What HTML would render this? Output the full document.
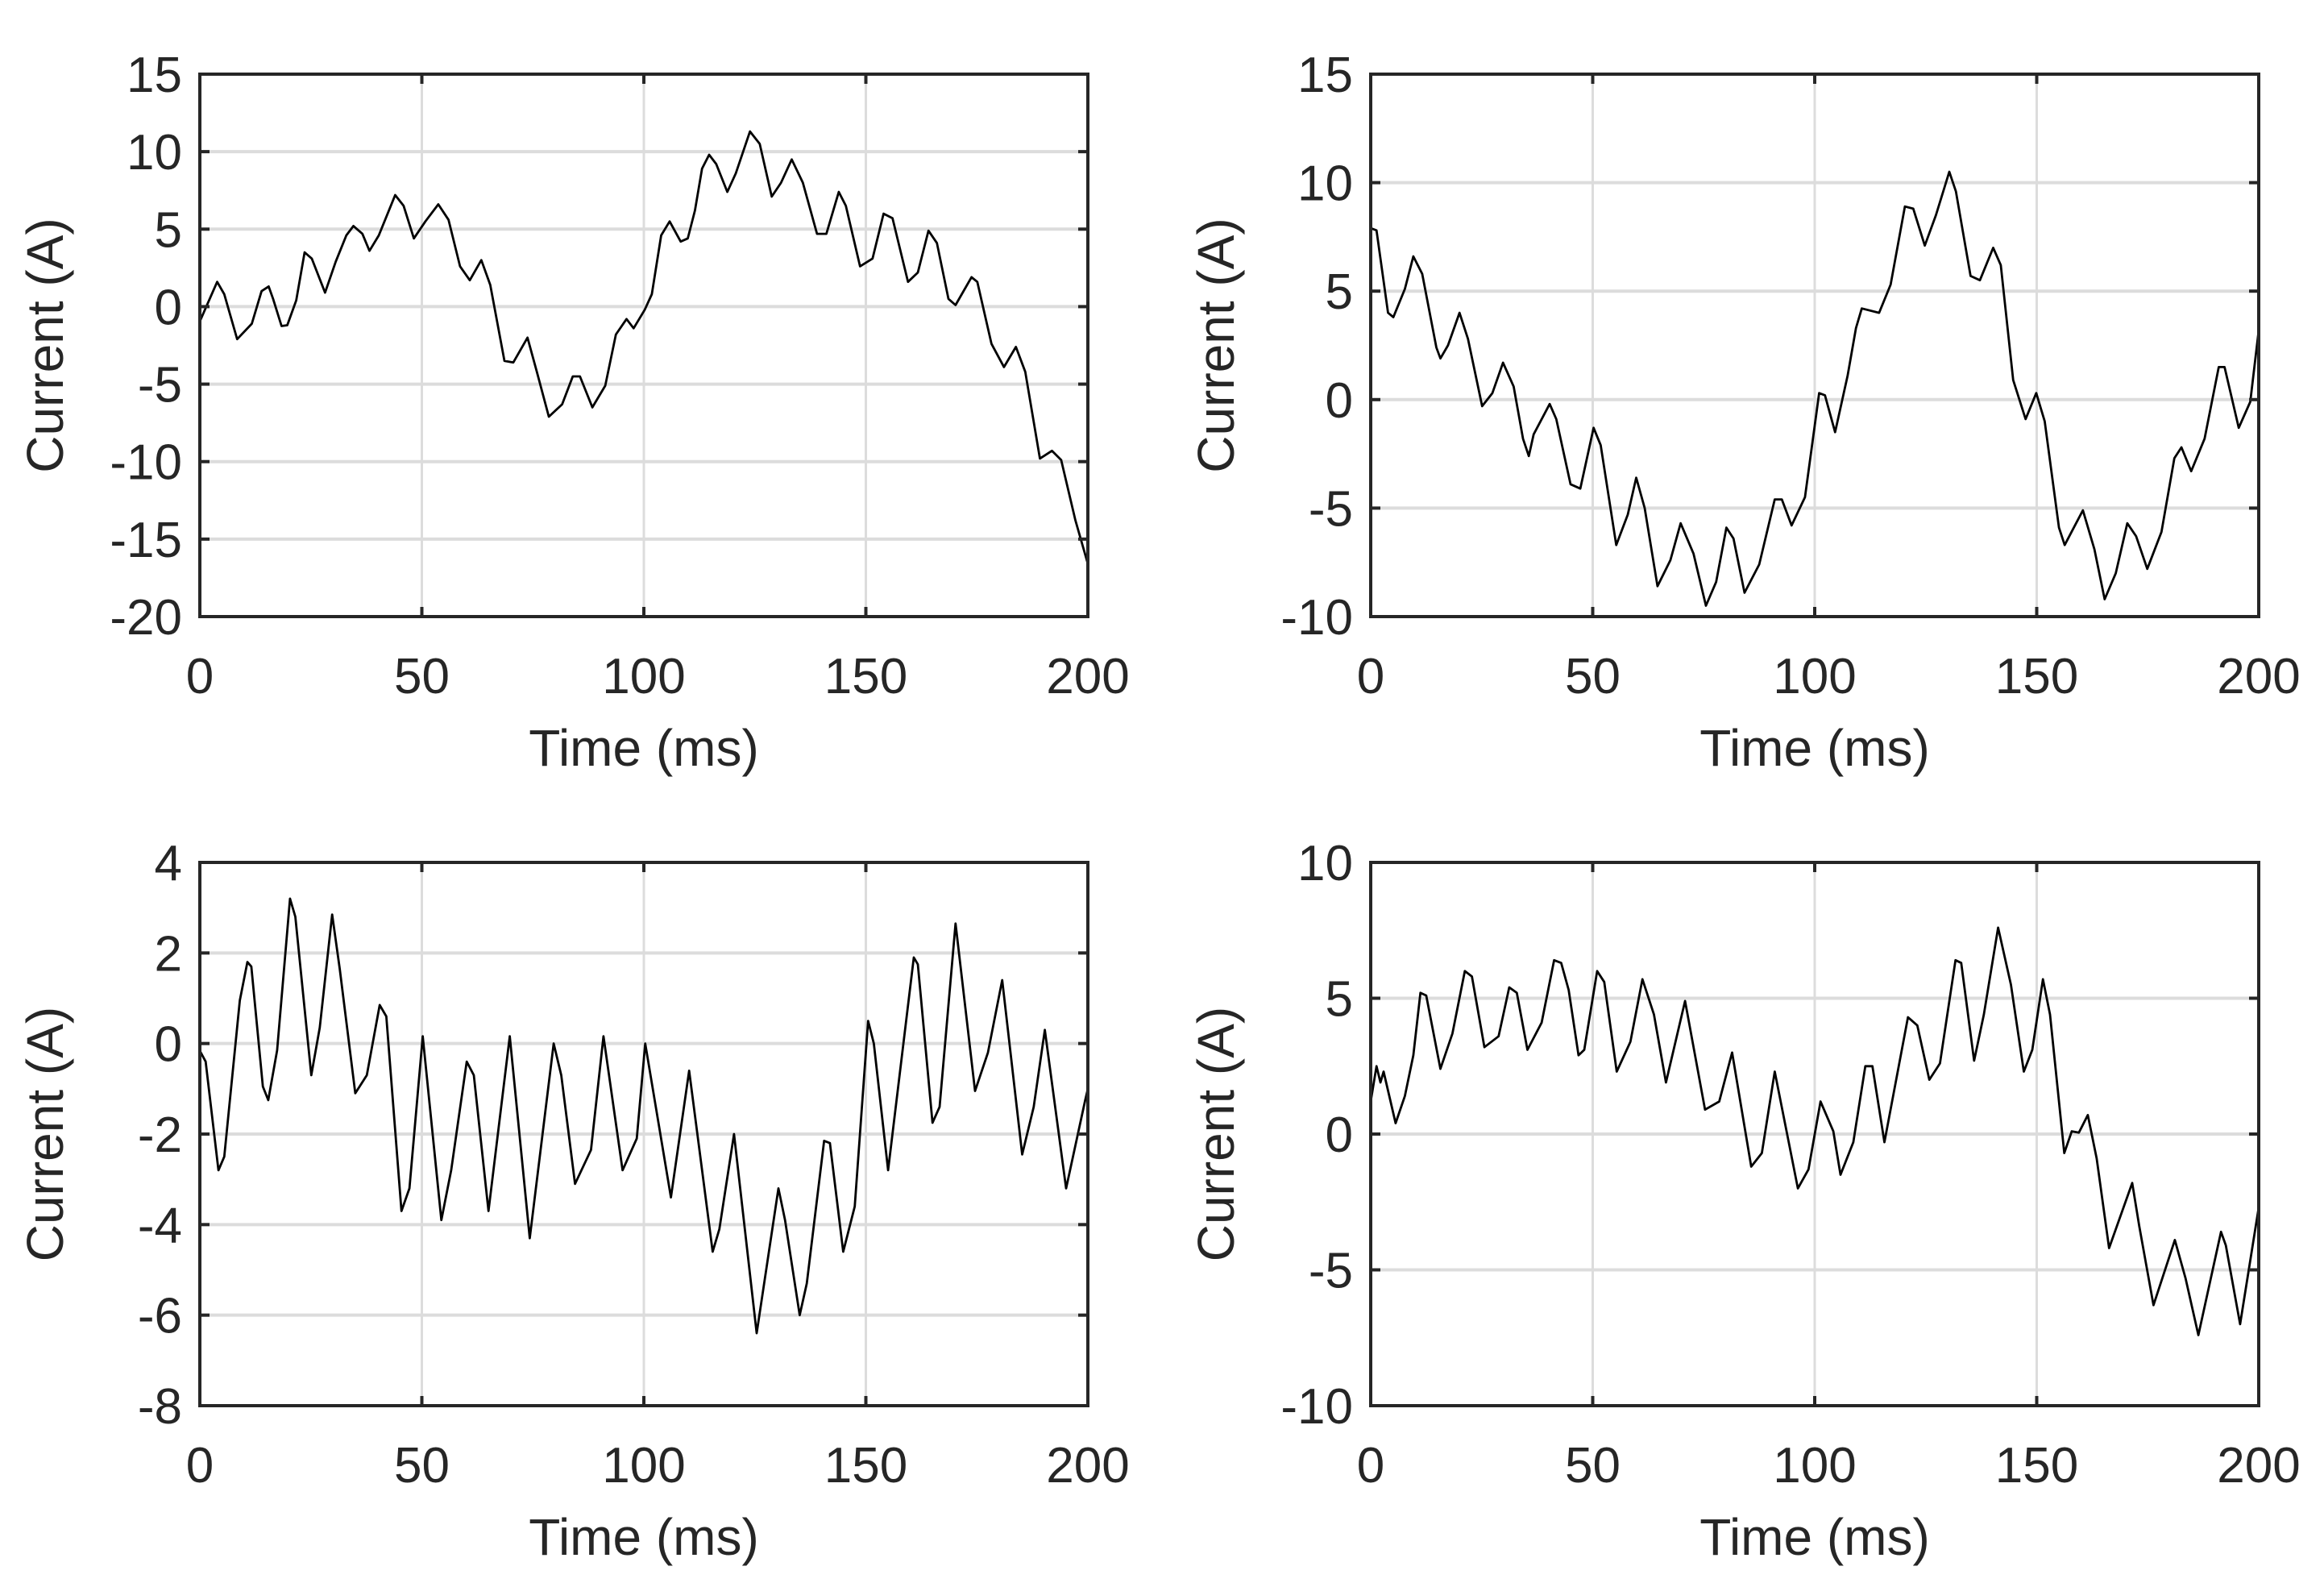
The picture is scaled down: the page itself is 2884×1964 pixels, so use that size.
<!DOCTYPE html>
<html><head><meta charset="utf-8">
<style>
html,body{margin:0;padding:0;background:#fff;}
svg{display:block;}
text{font-family:"Liberation Sans",sans-serif;fill:#262626;}
</style></head>
<body>
<svg id="fig" width="2884" height="1964" viewBox="0 0 2884 1964" xmlns="http://www.w3.org/2000/svg"></svg>
<script>
// Data arrays (time in ms, current in A)
const t1 = [0,3.9,5.5,8.4,11.7,13.9,15.5,16.5,18.4,19.7,21.7,23.6,25.2,28.2,30.6,33,34.6,36.6,38.2,40.3,44,45.9,48.2,50.8,53.7,56,58.6,60.8,63.4,65.4,68.6,70.6,73.8,75.9,78.6,81.6,84,85.6,88.4,91.3,93.7,96.1,97.7,100.2,101.8,103.9,105.8,108.3,109.9,111.5,113.1,114.7,116.3,118.8,120.7,123.9,126.1,128.8,130.9,133.3,135.8,139,141.1,143.9,145.5,148.7,151.5,154,156,159.5,161.7,164.1,166,168.6,170.2,173.8,175.1,178.3,181.1,183.8,185.9,189.2,191.9,194,197.2,200];
const v1 = [-0.95,1.6,0.8,-2.1,-1.1,1.0,1.3,0.5,-1.25,-1.2,0.4,3.5,3.1,0.9,2.9,4.6,5.2,4.7,3.6,4.6,7.2,6.5,4.4,5.5,6.6,5.6,2.6,1.7,3.0,1.4,-3.5,-3.6,-2.0,-4.2,-7.1,-6.3,-4.5,-4.5,-6.5,-5.1,-1.8,-0.8,-1.4,-0.2,0.8,4.6,5.5,4.2,4.4,6.2,8.9,9.8,9.2,7.4,8.6,11.3,10.5,7.1,8.0,9.5,8.0,4.7,4.7,7.4,6.5,2.6,3.1,6.0,5.7,1.6,2.2,4.9,4.1,0.5,0.1,1.9,1.6,-2.4,-3.9,-2.6,-4.2,-9.8,-9.3,-9.9,-13.8,-16.6];

const t2 = [0,1.3,3.9,5.1,7.7,9.6,11.6,14.8,15.7,17.4,20,21.9,25.1,27.4,29.8,32.2,34.3,35.6,36.7,40.3,41.8,45,47.2,50.2,51.8,55.3,57.9,59.8,61.7,64.6,67.5,69.8,72.7,75.5,77.8,80.1,81.7,84.2,87.5,91,92.6,94.8,97.8,101,102.3,104.6,107.4,109.3,110.6,114.5,117.1,120.3,122.2,124.8,127.3,130.3,131.8,135.1,137.2,140.2,141.9,144.7,147.5,149.9,151.8,155,156.3,160.4,163,165.3,167.8,170.4,172.4,174.9,178.1,181,182.6,184.8,187.8,191,192.3,195.5,198.1,200];
const v2 = [7.9,7.8,4.0,3.8,5.1,6.6,5.8,2.4,1.9,2.5,4.0,2.8,-0.3,0.3,1.7,0.6,-1.8,-2.6,-1.6,-0.2,-0.9,-3.9,-4.1,-1.3,-2.1,-6.7,-5.3,-3.6,-5.0,-8.6,-7.4,-5.7,-7.1,-9.5,-8.4,-5.9,-6.4,-8.9,-7.6,-4.6,-4.6,-5.8,-4.5,0.3,0.2,-1.5,1.1,3.3,4.2,4.0,5.3,8.9,8.8,7.1,8.5,10.5,9.6,5.7,5.5,7.0,6.2,0.9,-0.9,0.3,-1.0,-5.9,-6.7,-5.1,-6.9,-9.2,-8.0,-5.7,-6.3,-7.8,-6.1,-2.7,-2.2,-3.3,-1.8,1.5,1.5,-1.3,-0.1,3.2];

const t3 = [0,1.3,4.2,5.5,9,10.7,11.6,14.2,15.4,17.4,20.3,21.5,25.1,27,29.8,31.5,35,37.6,40.5,42,45.4,47.2,50.2,54.4,56.6,60.1,61.7,65,69.8,74.3,79.7,81.4,84.5,88.1,90.9,95.2,98.4,100.3,106.1,110.2,115.5,117,120.3,125.4,130.3,131.8,135.1,136.7,140.6,141.9,144.9,147.5,150.5,151.8,155,160.8,161.7,165,166.6,170.2,174.6,177.5,180.7,185.2,187.8,190.3,195.1,199.4,200];
const v3 = [-0.16,-0.4,-2.8,-2.5,0.95,1.8,1.7,-0.95,-1.25,-0.15,3.2,2.8,-0.7,0.35,2.85,1.65,-1.1,-0.7,0.85,0.6,-3.7,-3.2,0.16,-3.9,-2.8,-0.4,-0.7,-3.7,0.16,-4.3,0,-0.7,-3.1,-2.35,0.16,-2.8,-2.1,0,-3.4,-0.6,-4.6,-4.1,-2.0,-6.4,-3.2,-3.9,-6.0,-5.3,-2.15,-2.2,-4.6,-3.6,0.5,0,-2.8,1.9,1.75,-1.75,-1.4,2.65,-1.05,-0.2,1.4,-2.45,-1.4,0.3,-3.2,-1.25,-1.0];

const t4 = [0,1.3,2.2,2.9,5.6,7.7,9.6,11.2,12.5,15.7,18.4,21.2,22.8,25.6,28.8,31.2,32.9,35.3,38.5,41.3,42.9,44.6,46.8,48.1,51,52.6,55.4,58.5,61.2,63.8,66.5,70.8,75.3,78.5,81.4,85.7,88.1,91,96.2,98.6,101.3,104.2,105.8,108.7,111.4,113,115.7,121,123.1,125.8,128.2,131.7,133,135.9,138.1,141.3,144.2,147.1,149,151.4,153,156.2,157.9,159.5,161.5,163.5,166.3,171.5,173.1,176.3,181.1,183.5,186.4,191.5,192.6,195.8,200];
const v4 = [1.2,2.5,1.9,2.3,0.4,1.4,2.9,5.2,5.1,2.4,3.7,6.0,5.8,3.2,3.6,5.4,5.2,3.1,4.1,6.4,6.3,5.3,2.9,3.1,6.0,5.6,2.3,3.4,5.7,4.4,1.9,4.9,0.9,1.2,3.0,-1.2,-0.7,2.3,-2.0,-1.3,1.2,0.1,-1.5,-0.3,2.5,2.5,-0.3,4.3,4.0,2.0,2.6,6.4,6.3,2.7,4.4,7.6,5.5,2.3,3.1,5.7,4.4,-0.7,0.1,0.05,0.7,-0.9,-4.2,-1.8,-3.4,-6.3,-3.9,-5.3,-7.4,-3.6,-4.1,-7.0,-2.7];

const xTicks = [0,50,100,150,200];
const yTicks1 = [-20,-15,-10,-5,0,5,10,15];
const yTicks2 = [-10,-5,0,5,10,15];
const yTicks3 = [-8,-6,-4,-2,0,2,4];
const yTicks4 = [-10,-5,0,5,10];

const NS = "http://www.w3.org/2000/svg";
const svg = document.getElementById('fig');
function mk(tag, attrs, parent){
  const e = document.createElementNS(NS, tag);
  for (const k in attrs) e.setAttribute(k, attrs[k]);
  (parent||svg).appendChild(e);
  return e;
}

function panel(name, L, R, T, B, yTicks, ts, vs){
  const g = mk('g', {});
  
  
  const ymin = yTicks[0], ymax = yTicks[yTicks.length-1];
  const xs = t => L + (t - 0) / 200 * (R - L);
  const ys = v => B - (v - ymin) / (ymax - ymin) * (B - T);
  xTicks.forEach(t => {
    if (t===0||t===200) return;
    const l = mk('line', {x1:xs(t),x2:xs(t),y1:T,y2:B,stroke:'#dcdcdc','stroke-width':3}, g);
    
    
  });
  yTicks.forEach(v => {
    if (v===ymin||v===ymax) return;
    const l = mk('line', {x1:L,x2:R,y1:ys(v),y2:ys(v),stroke:'#dcdcdc','stroke-width':4}, g);
    
    
  });
  const d = ts.map((t,i)=>(i?'L':'M')+xs(t).toFixed(1)+' '+ys(vs[i]).toFixed(1)).join(' ');
  const p = mk('path', {d:d, fill:'none', stroke:'#000', 'stroke-width':2.8, 'stroke-linejoin':'round'}, g);
  
  
  xTicks.forEach(t => {
    mk('line', {x1:xs(t),x2:xs(t),y1:B,y2:B-12,stroke:'#262626','stroke-width':4}, g);
    mk('line', {x1:xs(t),x2:xs(t),y1:T,y2:T+12,stroke:'#262626','stroke-width':4}, g);
    const tx = mk('text', {x:xs(t), y:B+95, 'font-size':62, 'text-anchor':'middle'}, g);
    tx.textContent = t;
    
    
  });
  yTicks.forEach(v => {
    mk('line', {x1:L,x2:L+12,y1:ys(v),y2:ys(v),stroke:'#262626','stroke-width':4}, g);
    mk('line', {x1:R,x2:R-12,y1:ys(v),y2:ys(v),stroke:'#262626','stroke-width':4}, g);
    const tx = mk('text', {x:L-22, y:ys(v)+22, 'font-size':62, 'text-anchor':'end'}, g);
    tx.textContent = v;
    
    
  });
  const box = mk('rect', {x:L,y:T,width:R-L,height:B-T,fill:'none',stroke:'#262626','stroke-width':4}, g);
  
  
  const xl = mk('text', {x:(L+R)/2, y:B+185, 'font-size':64, 'text-anchor':'middle'}, g);
  xl.textContent = 'Time (ms)';
  
  
  const yx = L - 170, yy = (T+B)/2;
  const yl = mk('text', {x:yx, y:yy, 'font-size':64, 'text-anchor':'middle', transform:'rotate(-90 '+yx+' '+yy+')'}, g);
  yl.textContent = 'Current (A)';
  
  
}

panel('panel-top-left', 248, 1350, 92, 765, yTicks1, t1, v1);
panel('panel-top-right', 1701, 2803, 92, 765, yTicks2, t2, v2);
panel('panel-bottom-left', 248, 1350, 1070, 1744, yTicks3, t3, v3);
panel('panel-bottom-right', 1701, 2803, 1070, 1744, yTicks4, t4, v4);
</script>
</body></html>
